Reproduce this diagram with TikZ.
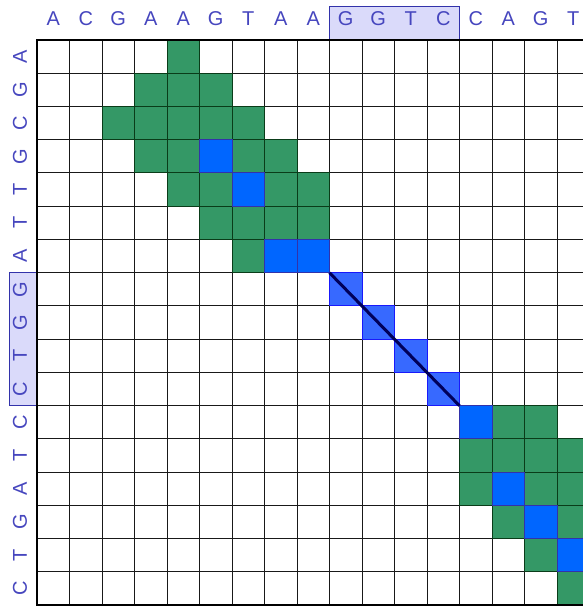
\documentclass[tikz,border=0pt]{standalone}
\usepackage{fontspec}
\setmainfont{Liberation Sans}

\definecolor{seqblue}{RGB}{70,70,190}
\definecolor{matchgreen}{RGB}{52,152,102}
\definecolor{darkgreen}{RGB}{10,60,25}
\definecolor{matchblue}{RGB}{0,102,255}
\definecolor{edgeblue}{RGB}{50,50,170}
\definecolor{pathblue}{RGB}{55,105,255}
\definecolor{pathedge}{RGB}{25,25,250}
\definecolor{boxfill}{RGB}{218,218,250}

\tikzset{
    letter/.style = {text = seqblue, font = \fontsize{20}{24}\selectfont, inner sep = 0pt},
    seqbox/.style = {fill = boxfill, draw = edgeblue, line width = 1pt},
    gridline/.style = {draw = black!90, line width = 1pt},
    greencell/.style = {fill = matchgreen, draw = darkgreen, line width = 1pt},
    bluecell/.style = {fill = matchblue, draw = edgeblue, line width = 1pt},
    pathcell/.style = {fill = pathblue, draw = pathedge, line width = 1pt},
}

\begin{document}
\begin{tikzpicture}[x = 32.5pt, y = 33.25pt]
    \useasboundingbox (-1.1385,1.203) rectangle (16.8,-17.053);
    \clip (-1.1385,1.203) rectangle (16.8,-17.053);

    % highlighted part of both sequences
    \draw[seqbox] (9,0) rectangle (13,1);
    \draw[seqbox] (-0.86,-7) rectangle (0,-11);

    % sequences
    \foreach \s [count = \i] in {A,C,G,A,A,G,T,A,A,G,G,T,C,C,A,G,T}
        \node[letter] (top\i) at (\i-0.5,0.63) {\s};
    \foreach \s [count = \i] in {A,G,C,G,T,T,A,G,G,T,C,C,T,A,G,T,C}
        \node[letter, rotate = 90] (left\i) at (-0.52,-\i+0.5) {\s};

    % grid
    \foreach \k in {1,...,16} {
        \draw[gridline] (\k,0) -- (\k,-17);
        \draw[gridline] (0,-\k) -- (17,-\k);
    }

    % cells (row/column)
    \foreach \r/\c in {1/5, 2/4, 2/5, 2/6, 3/3, 3/4, 3/5, 3/6, 3/7,
                       4/4, 4/5, 4/7, 4/8, 5/5, 5/6, 5/8, 5/9,
                       6/6, 6/7, 6/8, 6/9, 7/7,
                       12/15, 12/16, 13/14, 13/15, 13/16, 13/17,
                       14/14, 14/16, 14/17, 15/15, 15/17, 16/16, 17/17}
        \draw[greencell] (\c-1,-\r+1) rectangle (\c,-\r);
    \foreach \r/\c in {4/6, 5/7, 7/8, 7/9, 12/14, 14/15, 15/16, 16/17}
        \draw[bluecell] (\c-1,-\r+1) rectangle (\c,-\r);
    \foreach \r/\c in {8/10, 9/11, 10/12, 11/13}
        \draw[pathcell] (\c-1,-\r+1) rectangle (\c,-\r);

    % alignment path
    \coordinate (pathstart) at (9,-7);
    \coordinate (pathend) at (13,-11);
    \draw[line width = 3pt, color = {rgb,255:red,0;green,0;blue,90}] (pathstart) -- (pathend);

    % outer frame
    \draw[line width = 2.5pt] (17,0) -- (0,0) -- (0,-17) -- (17,-17);
\end{tikzpicture}
\end{document}
